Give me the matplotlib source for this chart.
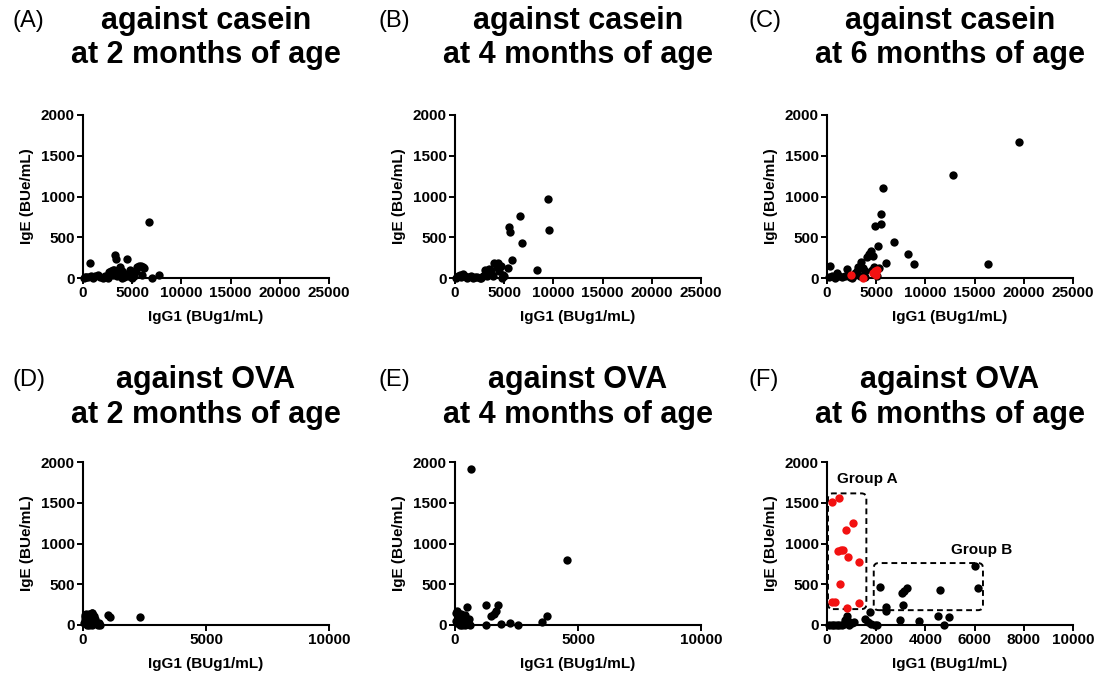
import matplotlib
matplotlib.use('Agg')
import matplotlib.pyplot as plt
from matplotlib.patches import FancyBboxPatch

plt.rcParams['font.family'] = 'Liberation Sans'

# ---- data (IgG1 BUg1/mL, IgE BUe/mL) ----
# (A) casein, 2 months
a_x = [200, 500, 700, 800, 1000, 1200, 1500, 1700, 2000, 2200, 2500, 2700, 2800, 3000,
       3200, 3300, 3400, 3500, 3600, 3800, 4000, 4200, 4300, 4500, 4600, 4800, 5000, 5200,
       5400, 5500, 5700, 5900, 6100, 6200, 6000, 6700, 7000, 7700, 300, 100, 2500, 4000,
       5000, 3000, 2600]
a_y = [10, 10, 180, 30, 5, 20, 40, 10, 5, 20, 30, 60, 90, 40,
       100, 280, 230, 20, 60, 130, 80, 10, 50, 230, 20, 100, 60, 30,
       90, 130, 150, 150, 140, 120, 40, 690, 5, 40, 10, 0, 5, 5,
       5, 100, 70]

# (B) casein, 4 months
b_x = [100, 300, 500, 600, 800, 1000, 1300, 1600, 1800, 2200, 2500, 2800, 3000, 3200,
       3300, 3500, 3700, 3900, 4000, 4200, 4400, 4500, 4700, 4900, 5000, 5400, 5500, 5600,
       5800, 6600, 6800, 8300, 9500, 9600, 4300, 2000, 3600, 4800, 1200, 2600]
b_y = [5, 20, 40, 10, 50, 20, 10, 30, 5, 10, 5, 20, 100, 60,
       30, 110, 70, 20, 190, 170, 190, 90, 150, 40, 20, 120, 620, 570,
       215, 765, 425, 95, 975, 590, 130, 15, 100, 5, 0, 0]

# (C) casein, 6 months
c_x = [300, 200, 500, 800, 1000, 1200, 1500, 1800, 2000, 2300, 2600, 2800, 3000, 3200,
       3400, 3500, 3700, 3900, 4100, 4300, 4500, 4700, 4800, 4900, 5100, 5200, 5500, 5500,
       5700, 5300, 6000, 6800, 8200, 8800, 12800, 16400, 19500, 4600, 3900, 2500]
c_y = [150, 10, 20, 5, 60, 30, 10, 20, 110, 10, 30, 60, 90, 130,
       30, 200, 120, 80, 260, 300, 330, 270, 140, 640, 20, 390, 660, 780,
       1110, 120, 190, 440, 300, 170, 1260, 170, 1670, 100, 10, 5]
c_red_x = [2400, 3700, 4700, 4900, 5100, 5000]
c_red_y = [40, 0, 60, 80, 100, 40]

# (D) OVA, 2 months
d_x = [1000, 1100, 2300, 50, 80, 100, 120, 150, 180, 200, 220, 250, 280, 300, 320,
       350, 380, 400, 430, 450, 480, 500, 550, 600, 650, 700, 150, 250, 350, 100]
d_y = [120, 100, 95, 20, 100, 60, 130, 90, 40, 120, 10, 140, 70, 100, 30,
       150, 150, 80, 110, 50, 20, 70, 10, 0, 30, 5, 0, 0, 0, 120]

# (E) OVA, 4 months
e_x = [650, 4550, 1250, 1750, 1450, 1600, 1650, 1250, 1850, 2250, 2550, 3550, 3750, 500,
       50, 100, 150, 200, 250, 300, 350, 400, 450, 500, 550, 100, 200, 300, 400, 600, 50, 150]
e_y = [1910, 795, 250, 250, 110, 140, 170, 0, 10, 30, 0, 35, 110, 215,
       150, 170, 100, 60, 140, 30, 90, 120, 50, 10, 70, 20, 0, 0, 0, 0, 50, 130]

# (F) OVA, 6 months
f_x = [6000, 6150, 2150, 3050, 3150, 3250, 4600, 3100, 2400, 2400, 1750, 2950, 3750, 4500,
       4950, 4750, 1550, 1650, 1800, 1950, 2050, 800, 850, 1100, 100, 200, 300, 400, 500,
       600, 700, 900, 1000, 750]
f_y = [725, 450, 470, 390, 420, 450, 430, 240, 220, 175, 160, 60, 50, 105,
       100, 0, 70, 40, 10, 5, 0, 110, 50, 40, 0, 0, 0, 0, 5,
       0, 10, 0, 20, 60]
f_red_x = [200, 490, 1040, 790, 430, 560, 650, 850, 1310, 510, 190, 340, 810, 1310]
f_red_y = [1510, 1560, 1255, 1170, 910, 915, 920, 830, 770, 505, 285, 285, 205, 265]

titles = ['against casein', 'against casein', 'against casein',
          'against OVA', 'against OVA', 'against OVA']
ages = ['at 2 months of age', 'at 4 months of age', 'at 6 months of age'] * 2
letters = ['(A)', '(B)', '(C)', '(D)', '(E)', '(F)']
xmaxes = [25000, 25000, 25000, 10000, 10000, 10000]
xticks = [[0, 5000, 10000, 15000, 20000, 25000]] * 3 + [[0, 5000, 10000]] * 2 + \
         [[0, 2000, 4000, 6000, 8000, 10000]]

black = [(a_x, a_y), (b_x, b_y), (c_x, c_y), (d_x, d_y), (e_x, e_y), (f_x, f_y)]
red = [None, None, (c_red_x, c_red_y), None, None, (f_red_x, f_red_y)]

W, H = 1101, 673
fig = plt.figure(figsize=(W / 100, H / 100), dpi=100)

lefts = [83, 455, 827]
tops = [115, 462]
aw, ah = 246, 163
label_x = [12, 378, 748]
title_y = [(21, 55), (380, 415)]

for i in range(6):
    r, c = divmod(i, 3)
    ax = fig.add_axes([lefts[c] / W, 1 - (tops[r] + ah) / H, aw / W, ah / H])
    bx, by = black[i]
    ax.scatter(bx, by, s=36, color='black', clip_on=False, zorder=3, linewidths=0)
    if red[i] is not None:
        ax.scatter(red[i][0], red[i][1], s=36, color='#f21111', clip_on=False, zorder=4,
                   linewidths=0)
    ax.set_xlim(0, xmaxes[i])
    ax.set_ylim(0, 2000)
    ax.set_xticks(xticks[i])
    ax.set_yticks([0, 500, 1000, 1500, 2000])
    for s in ['top', 'right']:
        ax.spines[s].set_visible(False)
    for s in ['left', 'bottom']:
        ax.spines[s].set_linewidth(1.5)
    ax.tick_params(direction='out', length=4, width=1.4, labelsize=11, pad=2)
    for lab in ax.get_xticklabels() + ax.get_yticklabels():
        lab.set_fontweight('bold')
    ax.set_xlabel('IgG1 (BUg1/mL)', fontsize=11, fontweight='bold')
    ax.set_ylabel('IgE (BUe/mL)', fontsize=11, fontweight='bold')
    ax.xaxis.set_label_coords(0.5, -32 / ah)
    ax.yaxis.set_label_coords(-49 / aw, 0.5)

    cx = (lefts[c] + aw / 2) / W
    fig.text(cx, 1 - title_y[r][0] / H, titles[i], ha='center', va='center',
             fontsize=22, fontweight='bold')
    fig.text(cx, 1 - title_y[r][1] / H, ages[i], ha='center', va='center',
             fontsize=22, fontweight='bold')
    fig.text(label_x[c] / W, 1 - title_y[r][0] / H, letters[i], ha='left', va='center',
             fontsize=17)

    if i == 5:
        # dashed group boxes
        for (x0, x1, y0, y1) in [(40, 1600, 195, 1615), (1900, 6340, 182, 760)]:
            box = FancyBboxPatch((x0, y0), x1 - x0, y1 - y0,
                                 boxstyle='round,pad=0,rounding_size=200',
                                 mutation_aspect=0.3, fill=False, edgecolor='black',
                                 linestyle=(0, (3, 2)), linewidth=1.4, zorder=2,
                                 clip_on=False)
            ax.add_patch(box)
        ax.text(1650, 1790, 'Group A', ha='center', va='center', fontsize=11,
                fontweight='bold')
        ax.text(6300, 920, 'Group B', ha='center', va='center', fontsize=11,
                fontweight='bold')

fig.savefig('out.png', dpi=100)
